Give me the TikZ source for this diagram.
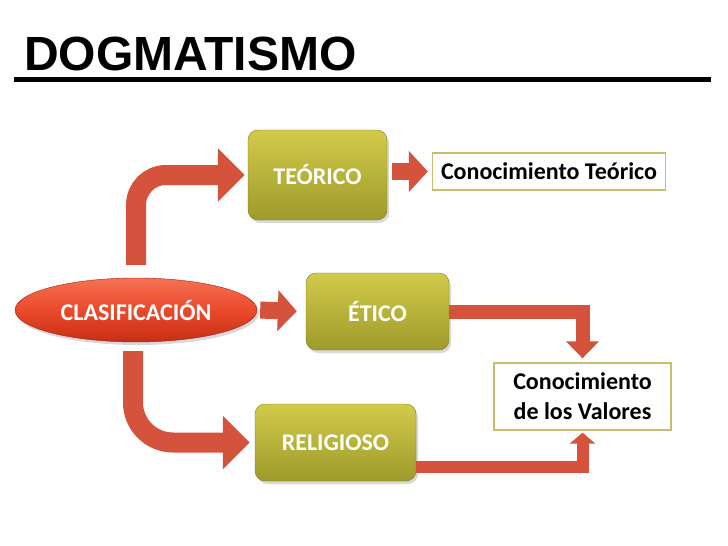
\documentclass[tikz,border=0pt]{standalone}
\usepackage{fontspec}
\setmainfont{Carlito}
\newfontfamily\titlefont{Liberation Sans}
\usepackage{tikz}
\usetikzlibrary{arrows.meta,positioning,shapes.geometric,shadows}

\definecolor{arrred}{RGB}{213,82,60}
\definecolor{olivtop}{RGB}{210,202,74}
\definecolor{olivbot}{RGB}{158,155,44}
\definecolor{olivline}{RGB}{130,126,36}
\definecolor{clastop}{RGB}{246,112,84}
\definecolor{clasmid}{RGB}{234,74,42}
\definecolor{clasbot}{RGB}{196,46,22}
\definecolor{clasline}{RGB}{165,38,18}
\definecolor{boxline}{RGB}{196,190,112}

\begin{document}
\begin{tikzpicture}[x=1pt, y=-1pt,
oliv/.style={draw=olivline, rounded corners=10pt, top color=olivtop, bottom color=olivbot, text=white, font=\bfseries\fontsize{24}{28}\selectfont, minimum height=77pt, drop shadow={opacity=0.3, shadow xshift=2pt, shadow yshift=-3pt}},
clasfill/.style={ellipse, draw=clasline, top color=clastop, bottom color=clasbot, middle color=clasmid, text=white, inner sep=0pt, font=\bfseries\fontsize{24}{28}\selectfont, drop shadow={opacity=0.3, shadow xshift=2pt, shadow yshift=-3pt}},
txtbox/.style={draw=boxline, line width=1.3pt, fill=white, align=center, inner sep=0pt, font=\bfseries\fontsize{24}{30}\selectfont},
bigarr/.style={draw=arrred, line width=20pt, -{Triangle[length=27pt, width=52pt]}},
midarr/.style={draw=arrred, line width=17pt, -{Triangle[length=19pt, width=40pt]}},
smallarr/.style={draw=arrred, line width=14pt, -{Triangle[length=17pt, width=32pt]}},
tinyarr/.style={draw=arrred, line width=12pt, -{Triangle[length=11pt, width=25pt]}}
]
\useasboundingbox[fill=white] (0,0) rectangle (728,546);

% title and rule
\node[anchor=base west, inner sep=0pt, font=\titlefont\bfseries\fontsize{48}{50}\selectfont] (title) at (24,70) {DOGMATISMO};
\draw[line width=5pt] (14,79.5) -- (711,79.5);

% boxes
\node[oliv, minimum width=139pt, minimum height=90pt] (teo) at (317.5,175) {TEÓRICO};
\node[txtbox, minimum width=233pt, minimum height=37pt] (conteo) at (549,171.5) {Conocimiento Teórico};
\node[clasfill, minimum width=242pt, minimum height=64pt] (clas) at (136,310) {CLASIFICACIÓN};
\node[oliv, minimum width=143pt] (etico) at (377.5,311.5) {ÉTICO};
\node[oliv, minimum width=161pt] (relig) at (335.5,442.5) {RELIGIOSO};
\node[txtbox, minimum width=177pt, minimum height=67pt] (valores) at (582.5,396.5) {Conocimiento\\de los Valores};

% arrows
\draw[bigarr, rounded corners=30pt] ([yshift=13pt]clas.north) |- ([xshift=-3pt]teo.west);
\draw[bigarr, rounded corners=40pt] ([yshift=-9pt, xshift=-3pt]clas.south) |- ([xshift=-5pt]relig.west);
\draw[midarr, shorten <=3pt, shorten >=9pt] (clas.east) -- (etico.west);
\draw[midarr, shorten <=5pt, shorten >=4pt] (conteo.west -| teo.east) -- (conteo.west);
\draw[smallarr] (etico.east) -| ([yshift=4pt]valores.north);
\draw[tinyarr] ([yshift=-24.5pt]relig.east) -| ([yshift=-2pt]valores.south);
\end{tikzpicture}
\end{document}
